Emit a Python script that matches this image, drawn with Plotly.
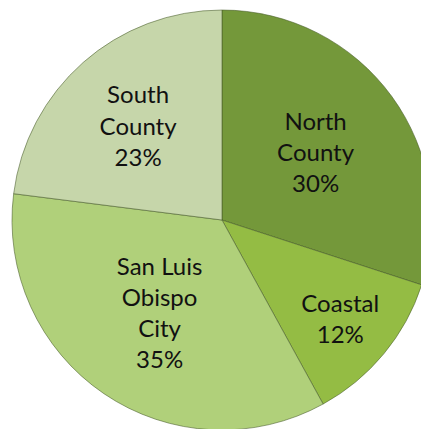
import plotly.graph_objects as go

labels = ["North<br>County", "Coastal", "San Luis<br>Obispo<br>City", "South<br>County"]
values = [30, 12, 35, 23]
colors = ["#74983a", "#94bc44", "#b0d07a", "#c6d6aa"]

fig = go.Figure(go.Pie(
    labels=labels,
    values=values,
    sort=False,
    direction="clockwise",
    rotation=0,
    marker=dict(colors=colors, line=dict(color="rgba(70,90,40,0.55)", width=1)),
    texttemplate="%{label}<br>%{percent:.0%}",
    textposition="inside",
    insidetextorientation="horizontal",
    textfont=dict(family="Lato, Calibri, sans-serif", size=24, color="#111111"),
    hoverinfo="label+percent",
    domain=dict(x=[0.0093, 0.9883], y=[0.0163, 0.9953]),
    showlegend=False,
))

fig.update_layout(
    width=429, height=429,
    margin=dict(l=0, r=0, t=0, b=0),
    paper_bgcolor="#ffffff",
    plot_bgcolor="#ffffff",
    uniformtext=dict(minsize=24, mode="show"),
)

fig.write_html("out.html")
